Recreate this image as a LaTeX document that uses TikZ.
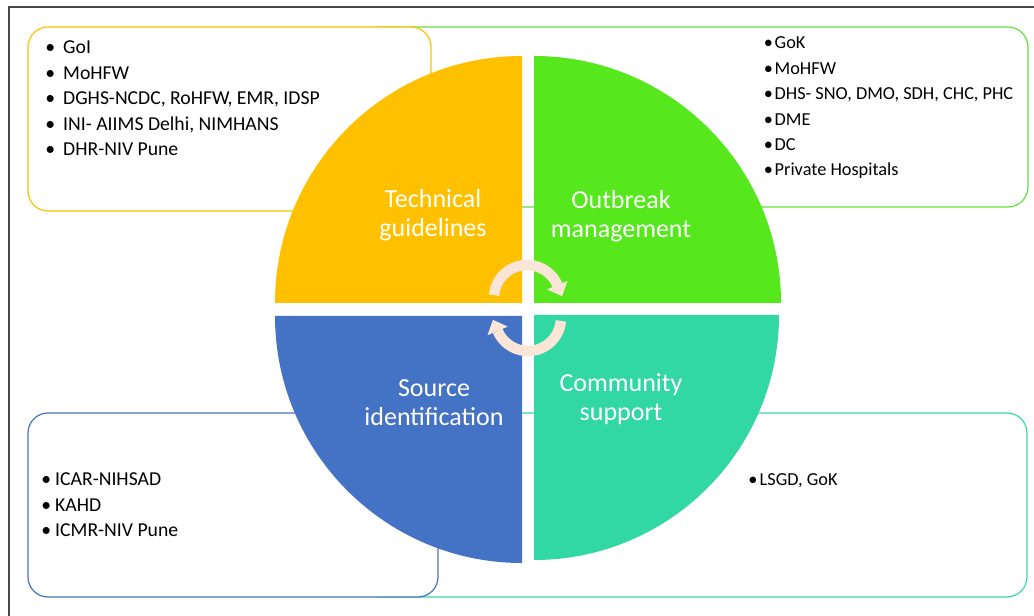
\documentclass[tikz,border=0pt]{standalone}
\usepackage{fontspec}
\setmainfont{Carlito}
\usetikzlibrary{calc}
\definecolor{cyel}{HTML}{FFC000}
\definecolor{cgrn}{HTML}{56E81D}
\definecolor{cblu}{HTML}{4472C4}
\definecolor{ctea}{HTML}{31D8A3}
\definecolor{cgrnline}{HTML}{62E040}
\definecolor{ctealine}{HTML}{3AD8A5}
\definecolor{ccream}{HTML}{FBE5D6}
\definecolor{cframe}{HTML}{4A4A4A}
\begin{document}
\begin{tikzpicture}[x=1pt,y=1pt,
  box/.style={rounded corners=20pt, line width=1.2pt, fill=white},
  lbl/.style={text=white, font=\fontsize{26}{30}\selectfont, anchor=base, inner sep=0pt},
  bul/.style={anchor=base, inner sep=0pt},
  itemA/.style={anchor=base west, inner sep=0pt, font=\fontsize{19.7}{23}\selectfont},
  itemB/.style={anchor=base west, inner sep=0pt, font=\fontsize{18.3}{22}\selectfont},
  arr/.style={ccream, line width=10.5pt}
]
\useasboundingbox (0,0) rectangle (1034,616);
\draw[cframe, line width=1.6pt] (9,-2) -- (9,609) -- (1036,609);
% boxes
\draw[box, draw=cgrnline] (360,409) rectangle (1028,589);
\draw[box, draw=cyel] (28,405) rectangle (431,589);
\draw[box, draw=ctealine] (360,19) rectangle (1027,203);
\draw[box, draw=cblu] (28,19) rectangle (438,203);
% quadrants
\fill[cyel] (522,313) -- (275,313) arc[start angle=180,end angle=90,radius=247] -- cycle;
\fill[cgrn] (534,313) -- (534,560) arc[start angle=90,end angle=0,radius=247] -- cycle;
\fill[cblu] (522,300) -- (522,53) arc[start angle=270,end angle=180,radius=247] -- cycle;
\fill[ctea] (534,301) -- (779,301) arc[start angle=0,end angle=-90,radius=245] -- cycle;
% labels
\node[lbl] (t1) at (433,408) {Technical};
\node[lbl] (t2) at (433,379) {guidelines};
\node[lbl] (o1) at (621,407) {Outbreak};
\node[lbl] (o2) at (621,378) {management};
\node[lbl] (s1) at (434,219.5) {Source};
\node[lbl] (s2) at (434,190.5) {identification};
\node[lbl] (c1) at (621,224) {Community};
\node[lbl] (c2) at (621,195) {support};
% circular arrows
\coordinate (ca) at (527,318);
\coordinate (cb) at (528,298);
\draw[arr] ($(ca)+(175:33)$) arc[start angle=175,end angle=23,radius=33];
\fill[ccream] ($(ca)+(23:22)$) -- ($(ca)+(23:44)$) -- ($(ca)+(23:33)+(-67:12)$) -- cycle;
\draw[arr] ($(cb)+(-5:33)$) arc[start angle=-5,end angle=-157,radius=33];
\fill[ccream] ($(cb)+(-157:22)$) -- ($(cb)+(-157:44)$) -- ($(cb)+(-157:33)+(113:12)$) -- cycle;
% top-left list
\foreach \y/\t [count=\i] in {562/GoI, 536/MoHFW, 511/{DGHS-NCDC, RoHFW, EMR, IDSP}, 485.5/{INI- AIIMS Delhi, NIMHANS}, 460/DHR-NIV Pune}{
  \node[bul, font=\fontsize{19.7}{23}\selectfont] (tlb\i) at (50.3,\y) {•};
  \node[itemA] (tl\i) at (63,\y) {\t};
}
% top-right list
\foreach \y/\t [count=\i] in {567.7/GoK, 541/MoHFW, 516/{DHS- SNO, DMO, SDH, CHC, PHC}, 490/DME, 465.3/DC, 440/Private Hospitals}{
  \node[bul, font=\fontsize{18.3}{22}\selectfont] (trb\i) at (768.5,\y) {•};
  \node[itemB] (tr\i) at (774.5,\y) {\t};
}
% bottom-left list
\foreach \y/\t [count=\i] in {130/ICAR-NIHSAD, 104/KAHD, 79.3/ICMR-NIV Pune}{
  \node[bul, font=\fontsize{19.7}{23}\selectfont] (blb\i) at (46.3,\y) {•};
  \node[itemA] (bl\i) at (55,\y) {\t};
}
% bottom-right list
\node[bul, font=\fontsize{18.3}{22}\selectfont] (brb1) at (753,130) {•};
\node[itemB] (br1) at (759.5,130) {LSGD, GoK};
\end{tikzpicture}
\end{document}
